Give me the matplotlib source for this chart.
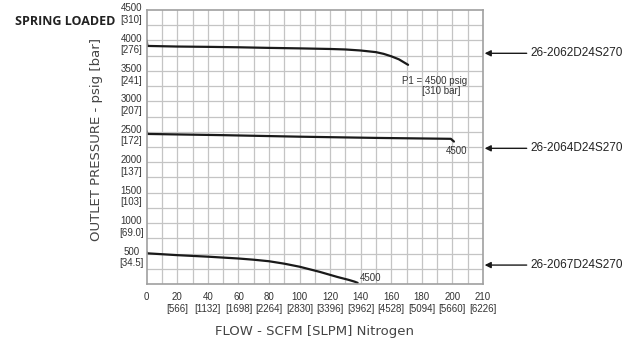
import matplotlib
matplotlib.use("Agg")
import matplotlib.pyplot as plt
from matplotlib.transforms import ScaledTranslation

# flow in SCFM, outlet pressure in psig
flow_2062 = [0, 0.4, 20, 40, 60, 80, 100, 120, 130, 140, 150, 155, 160, 165, 171]
psig_2062 = [4000, 3910, 3900, 3895, 3888, 3878, 3870, 3860, 3852, 3835, 3808, 3780, 3740, 3690, 3600]

flow_2064 = [0, 0.4, 50, 100, 150, 199, 201]
psig_2064 = [2510, 2465, 2445, 2420, 2400, 2385, 2340]

flow_2067 = [0, 0.4, 20, 40, 60, 70, 80, 90, 100, 113, 125, 132, 136, 138]
psig_2067 = [525, 505, 475, 450, 420, 400, 375, 335, 285, 202, 115, 70, 40, 20]

# last tick sits at the 220 line but is printed "210" on the original
x_ticks = [0, 20, 40, 60, 80, 100, 120, 140, 160, 180, 200, 220]
x_names = ["0", "20", "40", "60", "80", "100", "120", "140", "160", "180", "200", "210"]
x_slpm = ["", "566", "1132", "1698", "2264", "2830", "3396", "3962",
          "4528", "5094", "5660", "6226"]
y_ticks = [500, 1000, 1500, 2000, 2500, 3000, 3500, 4000, 4500]
y_bar = ["34.5", "69.0", "103", "137", "172", "207", "241", "276", "310"]

models = ["26-2062D24S270", "26-2064D24S270", "26-2067D24S270"]
model_y = [3789, 2229, 312]

tick_font = ["Liberation Sans Narrow", "Liberation Sans", "DejaVu Sans"]

fig = plt.figure(figsize=(6.38, 3.39), dpi=100)
ax = fig.add_axes([0.23, 0.162, 0.527, 0.8085])

ax.set_xlim(0, 220)
ax.set_ylim(0, 4500)

# grid every 10 scfm / 250 psig
for gx in range(10, 220, 10):
    ax.axvline(gx, color="#c4c4c4", lw=0.9, zorder=0)
for gy in range(250, 4500, 250):
    ax.axhline(gy, color="#c4c4c4", lw=0.9, zorder=0)
for s in ax.spines.values():
    s.set_color("#a0a0a0")
    s.set_linewidth(1.2)

ax.plot(flow_2062, psig_2062, color="#1a1a1a", lw=1.6, solid_capstyle="round")
ax.plot(flow_2064, psig_2064, color="#1a1a1a", lw=1.6, solid_capstyle="round")
ax.plot(flow_2067, psig_2067, color="#1a1a1a", lw=1.6, solid_capstyle="round")

ax.set_xticks(x_ticks)
ax.set_xticklabels([n if b == "" else "%s\n[%s]" % (n, b) for n, b in zip(x_names, x_slpm)],
                   family=tick_font, fontsize=7, color="#333333", linespacing=1.15)
shift = ScaledTranslation(-3 / 100, 0, fig.dpi_scale_trans)
for lab in ax.get_xticklabels():
    lab.set_transform(lab.get_transform() + shift)
ax.set_yticks(y_ticks)
ax.set_yticklabels([])
ax.tick_params(length=0, pad=6)
for v, b in zip(y_ticks, y_bar):
    ax.annotate("%d\n[%s]" % (v, b), xy=(0, v), xycoords=("axes fraction", "data"),
                xytext=(-11, 5), textcoords="offset points", ha="center", va="top",
                family=tick_font, fontsize=7, color="#333333", linespacing=1.2)

ax.set_xlabel("FLOW - SCFM [SLPM] Nitrogen", fontsize=9.5, color="#444444", labelpad=8)
ax.set_ylabel("OUTLET PRESSURE - psig [bar]", fontsize=9.5, color="#444444")
ax.yaxis.set_label_coords(-0.13, 0.529)

ax.text(167.3, 3330, "P1 = 4500 psig", fontsize=7, family=tick_font,
        color="#333333", ha="left", va="center")
ax.text(180.4, 3170, "[310 bar]", fontsize=7, family=tick_font,
        color="#333333", ha="left", va="center")
ax.text(202.5, 2270, "4500", fontsize=7, family=tick_font, color="#333333", ha="center", va="top")
ax.text(139.5, 20, "4500", fontsize=7, family=tick_font, color="#333333", ha="left", va="bottom")

for name, yv in zip(models, model_y):
    ax.annotate("", xy=(1.005, yv), xycoords=("axes fraction", "data"),
                xytext=(1.13, yv), textcoords=("axes fraction", "data"),
                arrowprops=dict(arrowstyle="-|>", color="#1a1a1a", lw=1.0,
                                mutation_scale=9, shrinkA=0, shrinkB=0))
    ax.annotate(name, xy=(1.14, yv), xycoords=("axes fraction", "data"),
                ha="left", va="center", fontsize=8.5, family=["Liberation Sans", "DejaVu Sans"],
                color="#222222", annotation_clip=False)

fig.text(15 / 638, 1 - 21.5 / 339, "SPRING LOADED", fontsize=9, fontweight="bold",
         family=["Open Sans", "DejaVu Sans"], color="#222222", ha="left", va="center")

fig.savefig("out.png", dpi=100)
